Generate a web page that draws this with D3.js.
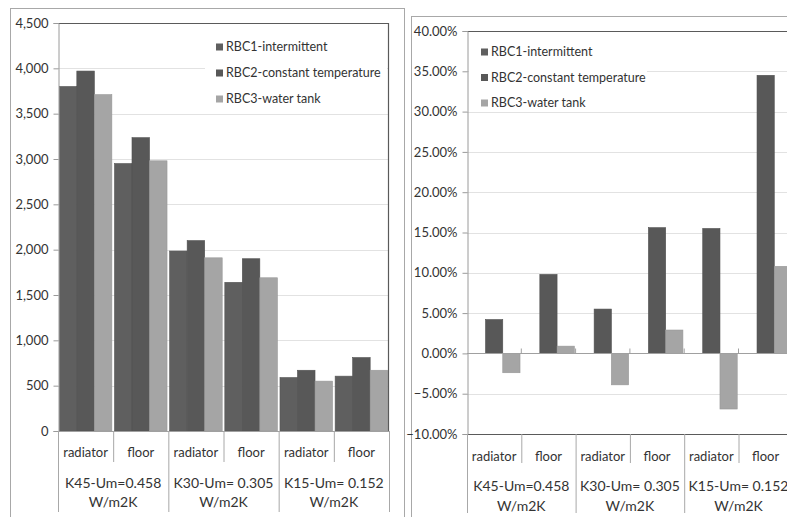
<!DOCTYPE html>
<html>
<head>
<meta charset="utf-8">
<script src="https://cdn.jsdelivr.net/npm/d3@7"></script>
<style>
  body { margin: 0; background: #fff; }
  text { font-family: Lato, "Open Sans", sans-serif; fill: #333; }
</style>
</head>
<body>
<svg id="chart" width="787" height="517"></svg>
<script>
// Building envelope variants (outer category level) and heating systems (inner level)
const groups = [["K45-Um=0.458", "W/m2K"], ["K30-Um= 0.305", "W/m2K"], ["K15-Um= 0.152", "W/m2K"]];
const systems = ["radiator", "floor"];
const seriesNames = ["RBC1-intermittent", "RBC2-constant temperature", "RBC3-water tank"];
const seriesColors = ["#5f5f5f", "#585858", "#a5a5a5"];

// Heating energy per case (K45 radiator, K45 floor, K30 radiator, K30 floor, K15 radiator, K15 floor)
const energyRBC1 = [3800, 2950, 1985, 1640, 590, 605];
const energyRBC2 = [3970, 3235, 2100, 1900, 670, 810];
const energyRBC3 = [3710, 2980, 1910, 1690, 550, 670];
const energyTicks = [0, 500, 1000, 1500, 2000, 2500, 3000, 3500, 4000, 4500];

// Difference relative to the intermittent control strategy
const diffRBC1 = [0, 0, 0, 0, 0, 0];
const diffRBC2 = [0.042, 0.098, 0.055, 0.156, 0.155, 0.345];
const diffRBC3 = [-0.024, 0.009, -0.039, 0.029, -0.069, 0.108];
const diffTicks = [-0.10, -0.05, 0, 0.05, 0.10, 0.15, 0.20, 0.25, 0.30, 0.35, 0.40];

const svg = d3.select("#chart");

// flat list of inner categories: "g0|radiator", ...
const cases = [];
groups.forEach((g, gi) => systems.forEach(s => cases.push(gi + "|" + s)));

function drawPanel(cfg) {
  const root = svg.append("g");

  // outer frame of the chart object
  root.append("rect")
    .attr("x", cfg.frame[0] + 0.5).attr("y", cfg.frame[1] + 0.5)
    .attr("width", cfg.frame[2]).attr("height", cfg.frame[3])
    .attr("fill", "none").attr("stroke", "#a8a8a8").attr("stroke-width", 1);

  const x = d3.scaleBand().domain(cases).range([cfg.left, cfg.right]).padding(0);
  const xs = d3.scaleBand().domain(seriesNames).range([0, x.bandwidth()])
    .paddingInner(0).paddingOuter(0.075);
  const y = d3.scaleLinear().domain(cfg.domain).range([cfg.bottom, cfg.top]);

  // horizontal gridlines
  root.append("g").selectAll("line").data(cfg.ticks).join("line")
    .attr("x1", cfg.left).attr("x2", cfg.right)
    .attr("y1", d => Math.round(y(d)) + 0.5).attr("y2", d => Math.round(y(d)) + 0.5)
    .attr("stroke", "#e2e2e2").attr("stroke-width", 1);

  // legend box (drawn under the bars, over the gridlines)
  const lg = root.append("g");
  lg.append("rect")
    .attr("x", cfg.legend.box[0]).attr("y", cfg.legend.box[1])
    .attr("width", cfg.legend.box[2]).attr("height", cfg.legend.box[3])
    .attr("fill", "#fff");
  seriesNames.forEach((name, i) => {
    const cy = cfg.legend.y0 + i * cfg.legend.dy;
    lg.append("rect")
      .attr("x", cfg.legend.x).attr("y", cy - 3.5)
      .attr("width", 7).attr("height", 7)
      .attr("fill", seriesColors[i]);
    lg.append("text")
      .attr("x", cfg.legend.x + 10).attr("y", cy)
      .attr("dy", "0.35em")
      .attr("font-size", 12.5)
      .text(name);
  });

  // bars
  cfg.series.forEach((vals, si) => {
    root.append("g").selectAll("rect").data(vals).join("rect")
      .attr("x", (d, i) => x(cases[i]) + xs(seriesNames[si]))
      .attr("width", xs.bandwidth())
      .attr("y", d => y(Math.max(0, d)))
      .attr("height", d => Math.abs(y(d) - y(0)))
      .attr("fill", seriesColors[si])
      .attr("stroke", d3.color(seriesColors[si]).darker(0.25))
      .attr("stroke-width", 0.6);
  });

  // plot area border (top, right, optional bottom)
  const border = root.append("g").attr("stroke", "#5a5a5a").attr("stroke-width", 1.2).attr("fill", "none");
  border.append("line").attr("x1", cfg.left).attr("x2", cfg.right).attr("y1", cfg.top + 0.5).attr("y2", cfg.top + 0.5);
  border.append("line").attr("x1", cfg.right - 0.5).attr("x2", cfg.right - 0.5).attr("y1", cfg.top).attr("y2", cfg.bottom);
  if (cfg.bottomBorder) {
    border.append("line").attr("x1", cfg.left).attr("x2", cfg.right).attr("y1", cfg.bottom + 0.5).attr("y2", cfg.bottom + 0.5);
  }

  // value axis
  const yAxis = d3.axisLeft(y).tickValues(cfg.ticks).tickFormat(cfg.format).tickSize(5).tickPadding(5);
  const ya = root.append("g").attr("transform", `translate(${cfg.left + 0.5},0)`).call(yAxis);
  ya.select(".domain").attr("stroke", "#9a9a9a");
  ya.selectAll(".tick line").attr("stroke", "#9a9a9a");
  ya.selectAll(".tick text").attr("font-size", 13).attr("font-family", null).attr("fill", "#333");

  // category axis line at zero
  const y0 = Math.round(y(0)) + 0.5;
  root.append("line").attr("x1", cfg.left).attr("x2", cfg.right)
    .attr("y1", y0).attr("y2", y0).attr("stroke", "#a0a0a0");

  // small ticks on the zero line between cases
  if (cfg.zeroTicks) {
    root.append("g").selectAll("line").data(d3.range(1, cases.length)).join("line")
      .attr("x1", i => x(cases[i])).attr("x2", i => x(cases[i]))
      .attr("y1", y0).attr("y2", y0 - 5)
      .attr("stroke", "#a0a0a0");
  }

  // multi-level category labels below the plot
  const lab = root.append("g");
  const base = cfg.bottom;
  // separators: between systems (short) and between envelope groups (long)
  cases.forEach((c, i) => {
    if (i % 2 === 1) {
      lab.append("line").attr("x1", x(c) + 0.5).attr("x2", x(c) + 0.5)
        .attr("y1", base).attr("y2", base + cfg.subLen).attr("stroke", "#a8a8a8");
    }
  });
  d3.range(0, groups.length + 1).forEach(gi => {
    const xx = gi < groups.length ? x(cases[gi * 2]) : cfg.right;
    lab.append("line").attr("x1", xx + 0.5).attr("x2", xx + 0.5)
      .attr("y1", base).attr("y2", base + cfg.groupLen).attr("stroke", "#a8a8a8");
  });
  cases.forEach(c => {
    lab.append("text")
      .attr("x", x(c) + x.bandwidth() / 2).attr("y", cfg.subY)
      .attr("text-anchor", "middle").attr("dy", "0.35em")
      .attr("font-size", 13)
      .text(c.split("|")[1]);
  });
  groups.forEach((g, gi) => {
    const cx = x(cases[gi * 2]) + x.bandwidth();
    g.forEach((line, li) => {
      lab.append("text")
        .attr("x", cx).attr("y", cfg.groupY + li * cfg.groupDy)
        .attr("text-anchor", "middle").attr("dy", "0.35em")
        .attr("font-size", 14)
        .text(line);
    });
  });
}

drawPanel({
  frame: [10, 8, 394, 520],
  left: 58, right: 389, top: 23, bottom: 431,
  domain: [0, 4500], ticks: energyTicks, format: d3.format(","),
  series: [energyRBC1, energyRBC2, energyRBC3],
  legend: { box: [205, 31, 182, 79], x: 216, y0: 47, dy: 26 },
  bottomBorder: false, zeroTicks: false,
  subLen: 31, groupLen: 81, subY: 452, groupY: 483, groupDy: 19.5
});

drawPanel({
  frame: [411, 16, 420, 520],
  left: 467, right: 467 + 6 * 54.3, top: 31, bottom: 434,
  domain: [-0.10, 0.40], ticks: diffTicks, format: d3.format(".2%"),
  series: [diffRBC1, diffRBC2, diffRBC3],
  legend: { box: [469, 38, 178, 73], x: 481, y0: 52, dy: 25.5 },
  bottomBorder: true, zeroTicks: true,
  subLen: 29, groupLen: 79, subY: 456, groupY: 486, groupDy: 20
});
</script>
</body>
</html>
